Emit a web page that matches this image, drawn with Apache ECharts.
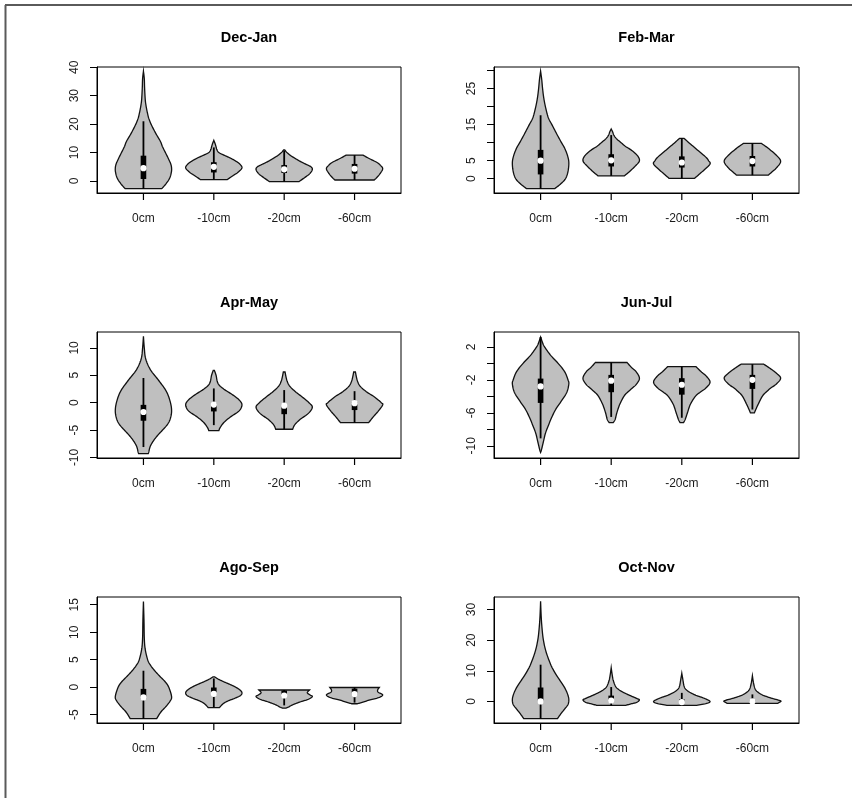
<!DOCTYPE html>
<html>
<head>
<meta charset="utf-8">
<script src="https://cdn.jsdelivr.net/npm/echarts@6/dist/echarts.min.js"></script>
<style>
html,body{margin:0;padding:0;background:#fff;}
#chart{width:852px;height:798px;}
</style>
</head>
<body>
<div id="chart"></div>
<script>
// ---------- data ----------
const panelTitles = ['Dec-Jan', 'Feb-Mar', 'Apr-May', 'Jun-Jul', 'Ago-Sep', 'Oct-Nov'];
const categories = ['0cm', '-10cm', '-20cm', '-60cm'];
const categoryPositions = [1, 2, 3, 4];

// y-axis ranges and ticks per panel
const yRanges = [[-4.22, 40.08], [-3.95, 30.97], [-10.1, 12.9], [-11.48, 3.8], [-6.5, 16.4], [-7.04, 34.1]];
const yTicks = [
  [0, 10, 20, 30, 40],
  [0, 5, 10, 15, 20, 25, 30],
  [-10, -5, 0, 5, 10],
  [-10, -8, -6, -4, -2, 0, 2],
  [-5, 0, 5, 10, 15],
  [0, 10, 20, 30]
];
const yTickLabels = [
  [0, 10, 20, 30, 40],
  [0, 5, 15, 25],
  [-10, -5, 0, 5, 10],
  [-10, -6, -2, 2],
  [-5, 0, 5, 10, 15],
  [0, 10, 20, 30]
];

// violin profiles: [value, relative half-width] from bottom to top, one list per depth
const decJanProfiles = [
  [[-2.7,0.65],[-1,0.8],[1,0.93],[3,0.99],[4.5,1.0],[6,0.97],[8,0.88],[10,0.78],[12,0.68],[14,0.6],[16,0.48],[18,0.37],[20,0.27],[22,0.19],[24,0.14],[26,0.1],[28,0.07],[30,0.055],[33,0.04],[36,0.03],[38.6,0]],
  [[0.5,0.48],[1,0.55],[2,0.7],[3,0.85],[4.6,1.0],[6,0.92],[7,0.78],[8,0.6],[9,0.38],[10,0.18],[11,0.11],[12,0.08],[13,0.05],[14.3,0]],
  [[-0.2,0.53],[1,0.7],[2.5,0.9],[4,1.0],[5,0.95],[6,0.75],[7,0.55],[8,0.38],[9,0.22],[10,0.1],[10.9,0.02]],
  [[0.35,0.7],[1,0.77],[2.5,0.9],[4.3,1.0],[5.5,0.92],[6.5,0.8],[8,0.5],[9.1,0.3]]
];
const febMarProfiles = [
  [[-2.75,0.5],[-1.5,0.7],[0,0.88],[2,0.97],[4.5,1.0],[6.5,0.95],[8.5,0.85],[10,0.74],[12,0.6],[13.5,0.5],[15,0.4],[17,0.27],[20,0.17],[22.5,0.11],[25,0.07],[27.5,0.04],[29.8,0]],
  [[0.8,0.47],[2,0.65],[3.5,0.85],[5,1.0],[6.5,0.92],[8,0.7],[9,0.5],[10,0.35],[11,0.2],[12,0.1],[13,0.05],[13.8,0]],
  [[0.1,0.45],[1,0.58],[2.5,0.8],[4.1,1.0],[5,0.95],[6,0.85],[8,0.55],[10,0.25],[11.2,0.08]],
  [[1.0,0.56],[1.8,0.68],[3,0.85],[4.8,1.0],[6.5,0.85],[8.5,0.55],[9.8,0.32]]
];
const aprMayProfiles = [
  [[-9.3,0.17],[-9,0.19],[-8,0.24],[-7,0.35],[-6,0.5],[-5,0.68],[-4,0.85],[-3,0.95],[-1.6,1.0],[0,0.96],[2,0.82],[4,0.55],[6,0.25],[8,0.08],[10,0.03],[12.1,0]],
  [[-5.1,0.18],[-4.5,0.23],[-3.5,0.38],[-2.5,0.62],[-1.5,0.9],[-0.4,1.0],[0.5,0.9],[1.5,0.65],[2.5,0.35],[3.5,0.15],[5,0.08],[5.9,0.02]],
  [[-4.85,0.3],[-4,0.38],[-3,0.58],[-2,0.85],[-0.85,1.0],[0,0.88],[1,0.65],[2,0.4],[3,0.2],[4,0.1],[5.6,0.03]],
  [[-3.65,0.5],[-2.5,0.68],[-1.5,0.85],[-0.4,1.0],[0,0.95],[1,0.72],[2,0.42],[3,0.2],[4,0.1],[5.6,0.03]]
];
const junJulProfiles = [
  [[-10.8,0],[-10.5,0.03],[-9.5,0.1],[-8.5,0.17],[-7.5,0.28],[-6.5,0.4],[-5.5,0.55],[-4.5,0.75],[-3.5,0.93],[-2.5,1.0],[-2,0.97],[-1,0.85],[0,0.62],[1,0.35],[2,0.14],[2.5,0.07],[3.2,0]],
  [[-7.2,0.07],[-6.8,0.14],[-6,0.2],[-5,0.3],[-4,0.45],[-3.5,0.58],[-3,0.75],[-2.5,0.9],[-1.8,1.0],[-1,0.88],[-0.5,0.72],[0.1,0.56]],
  [[-7.2,0.06],[-6.8,0.12],[-6,0.2],[-5,0.3],[-4,0.48],[-3.5,0.65],[-3,0.85],[-2.3,1.0],[-1.6,0.88],[-1,0.68],[-0.4,0.5]],
  [[-6,0.07],[-5.6,0.12],[-5,0.2],[-4,0.35],[-3.5,0.48],[-3,0.65],[-2.5,0.85],[-1.8,1.0],[-1.2,0.85],[-0.6,0.62],[-0.1,0.4]]
];
const agoSepProfiles = [
  [[-5.7,0.47],[-4.5,0.62],[-3.5,0.8],[-2.5,0.95],[-1.7,1.0],[0,0.9],[1,0.77],[2,0.58],[3,0.4],[4,0.25],[5,0.15],[7,0.06],[9,0.03],[12,0.02],[15.6,0]],
  [[-3.7,0.2],[-3,0.33],[-2.5,0.5],[-2,0.75],[-1.5,0.95],[-1,1.0],[-0.5,0.93],[0,0.78],[0.5,0.58],[1,0.35],[1.5,0.15],[1.9,0.03]],
  [[-3.8,0.06],[-3.6,0.15],[-3.2,0.3],[-2.7,0.55],[-2.2,0.85],[-1.7,1.0],[-1.4,0.92],[-1.0,0.82],[-0.5,0.9]],
  [[-3.0,0.1],[-2.7,0.3],[-2.3,0.55],[-1.9,0.85],[-1.4,1.0],[-0.9,0.84],[-0.5,0.82],[-0.05,0.88]]
];
const octNovProfiles = [
  [[-5.6,0.6],[-4,0.72],[-2.5,0.85],[-1,0.97],[0.5,1.0],[2,0.97],[4,0.88],[6,0.75],[8,0.6],[10,0.47],[12,0.36],[16,0.2],[20,0.1],[24,0.05],[28,0.02],[32.7,0]],
  [[-1.3,0.5],[-0.8,0.7],[-0.3,0.9],[0.5,1.0],[1,0.9],[2,0.65],[3,0.42],[4,0.25],[5,0.15],[7,0.07],[9,0.03],[11,0]],
  [[-1.3,0.5],[-0.7,0.85],[0,1.0],[1,0.8],[2,0.5],[3,0.28],[4,0.14],[5,0.08],[7,0.04],[9.2,0]],
  [[-0.6,0.9],[-0.3,0.95],[0.2,1.0],[1,0.7],[2,0.38],[3,0.2],[4,0.1],[6,0.04],[8.4,0]]
];

// box stats: [lower whisker, q1, median, q3, upper whisker]
const decJanStats = [[-2.7,0.7,4.5,8.9,21],[0.5,3.0,5.0,6.6,11.8],[-0.2,2.8,4.1,5.6,10.6],[0.35,2.6,4.3,6.0,9.1]];
const febMarStats = [[-2.75,1.2,5.0,8.0,17.6],[0.8,3.4,5.1,6.8,12.1],[0.1,3.1,4.5,6.2,11.2],[1.0,3.4,4.9,6.3,9.8]];
const aprMayStats = [[-8.1,-3.3,-1.7,-0.4,4.5],[-4.1,-1.6,-0.35,-0.05,2.6],[-4.85,-2.1,-0.55,-0.3,2.3],[-3.65,-1.35,-0.1,0.1,2.1]];
const junJulStats = [[-9.1,-4.8,-2.8,-1.85,3.2],[-6.5,-3.5,-2.1,-1.4,0.1],[-6.6,-3.8,-2.6,-1.8,-0.4],[-5.6,-3.1,-2.0,-1.4,-0.1]];
const agoSepStats = [[-5.7,-2.1,-1.85,-0.3,3.0],[-3.6,-1.4,-1.2,-0.05,1.6],[-3.3,-1.7,-1.5,-0.6,-0.5],[-2.8,-1.45,-1.25,-0.25,-0.05]];
const octNovStats = [[-5.6,-0.3,0.0,4.55,12],[-1.3,0.0,0.3,1.9,4.7],[-1.3,-0.3,-0.2,0.7,2.8],[-0.6,-0.3,0.0,0.5,2.3]];

const profiles = [decJanProfiles, febMarProfiles, aprMayProfiles, junJulProfiles, agoSepProfiles, octNovProfiles];
const stats = [decJanStats, febMarStats, aprMayStats, junJulStats, agoSepStats, octNovStats];

// ---------- layout ----------
const colLeft = [97, 494];
const colWidth = [304, 305];
const rowTop = [67, 332, 597];
const gridHeight = 126;
const xRange = [0.34, 4.66];
const halfMax = 0.4;
const tickLen = 7;

function catmull(pts, n) {
  if (pts.length < 3) return pts.slice();
  const out = [];
  for (let k = 0; k < pts.length - 1; k++) {
    const p0 = pts[Math.max(k - 1, 0)], p1 = pts[k], p2 = pts[k + 1], p3 = pts[Math.min(k + 2, pts.length - 1)];
    for (let s = 0; s < n; s++) {
      const t = s / n, t2 = t * t, t3 = t2 * t;
      const f = (a, b, c, d) => 0.5 * ((2 * b) + (-a + c) * t + (2 * a - 5 * b + 4 * c - d) * t2 + (-a + 3 * b - 3 * c + d) * t3);
      out.push([f(p0[0], p1[0], p2[0], p3[0]), f(p0[1], p1[1], p2[1], p3[1])]);
    }
  }
  out.push(pts[pts.length - 1]);
  return out;
}

const grids = [], xAxes = [], yAxes = [], series = [], graphics = [];
const font = 'Liberation Sans, Arial, sans-serif';

panelTitles.forEach((title, p) => {
  const col = p % 2, row = Math.floor(p / 2);
  grids.push({
    left: colLeft[col], top: rowTop[row], width: colWidth[col], height: gridHeight,
    show: true, borderColor: '#000', borderWidth: 1, backgroundColor: 'transparent'
  });
  xAxes.push({
    type: 'value', gridIndex: p, min: xRange[0], max: xRange[1], position: 'bottom',
    axisLine: { show: true, onZero: false, lineStyle: { color: '#000', width: 1 } }, splitLine: { show: false },
    axisTick: { show: false },
    axisLabel: { show: true, margin: 20, fontSize: 12, fontFamily: font, color: '#1a1a1a',
      customValues: categoryPositions, formatter: v => categories[Math.round(v) - 1] }
  });
  yAxes.push({
    type: 'value', gridIndex: p, min: yRanges[p][0], max: yRanges[p][1], position: 'left',
    axisLine: { show: true, onZero: false, lineStyle: { color: '#000', width: 1 } }, splitLine: { show: false },
    axisTick: { show: true, inside: false, length: tickLen, lineStyle: { color: '#000', width: 1 }, customValues: yTicks[p] },
    axisLabel: { show: true, rotate: 90, margin: 16, fontSize: 12, fontFamily: font, color: '#1a1a1a',
      customValues: yTickLabels[p], formatter: v => String(v) }
  });
  series.push({
    type: 'custom', xAxisIndex: p, yAxisIndex: p, silent: true, clip: false, z: 10,
    data: categories.map((c, i) => [categoryPositions[i], stats[p][i][2]]),
    renderItem: function (params, api) {
      const i = params.dataIndex;
      const x0 = api.value(0);
      const prof = profiles[p][i];
      const st = stats[p][i];
      const right = catmull(prof.map(d => api.coord([x0 + halfMax * d[1], d[0]])), 8);
      const left = catmull(prof.map(d => api.coord([x0 - halfMax * d[1], d[0]])), 8);
      const poly = right.concat(left.reverse());
      const cx = api.coord([x0, 0])[0];
      const yLo = api.coord([x0, st[0]])[1];
      const yQ1 = api.coord([x0, st[1]])[1];
      const yMed = api.coord([x0, st[2]])[1];
      const yQ3 = api.coord([x0, st[3]])[1];
      const yHi = api.coord([x0, st[4]])[1];
      const yAxisBottom = api.coord([x0, yRanges[p][0]])[1];
      return {
        type: 'group',
        children: [
          { type: 'rect', shape: { x: cx - 0.6, y: yAxisBottom, width: 1.2, height: tickLen }, style: { fill: '#000' } },
          { type: 'polygon', shape: { points: poly }, style: { fill: '#bfbfbf', stroke: '#111', lineWidth: 1.3 } },
          { type: 'line', shape: { x1: cx, y1: yLo, x2: cx, y2: yHi }, style: { stroke: '#000', lineWidth: 1.8 } },
          { type: 'rect', shape: { x: cx - 2.8, y: yQ3, width: 5.6, height: Math.max(yQ1 - yQ3, 1) }, style: { fill: '#000' } },
          { type: 'circle', shape: { cx: cx, cy: yMed, r: 3.1 }, style: { fill: '#fff' } }
        ]
      };
    }
  });
  graphics.push({
    type: 'text', x: colLeft[col] + colWidth[col] / 2, y: rowTop[row] - 29,
    style: { text: title, font: 'bold 14.5px ' + font, fill: '#000', textAlign: 'center', textVerticalAlign: 'middle' }
  });
});

// outer frame (top and left edges visible)
graphics.push({ type: 'line', shape: { x1: 5, y1: 5, x2: 852, y2: 5 }, style: { stroke: '#5a5a5a', lineWidth: 2 } });
graphics.push({ type: 'line', shape: { x1: 5.5, y1: 5, x2: 5.5, y2: 798 }, style: { stroke: '#5a5a5a', lineWidth: 2 } });

const chart = echarts.init(document.getElementById('chart'), null, { renderer: 'canvas' });
chart.setOption({
  animation: false,
  backgroundColor: '#fff',
  grid: grids,
  xAxis: xAxes,
  yAxis: yAxes,
  series: series,
  graphic: graphics
});
</script>
</body>
</html>
